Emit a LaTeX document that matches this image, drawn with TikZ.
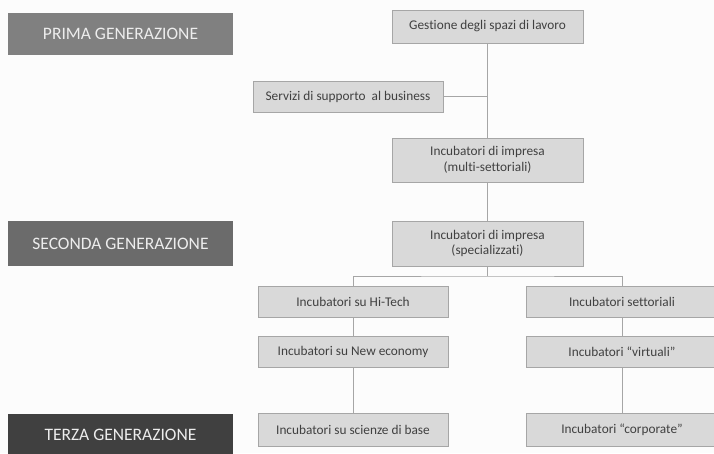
\documentclass[tikz,border=0pt]{standalone}
\usepackage{fontspec}
\setmainfont{Carlito}[Ligatures=NoCommon]
\begin{document}
\begin{tikzpicture}[x=1pt,y=-1pt,
  gen/.style={draw=none,text=white!93!black,font=\fontsize{17.5}{20}\selectfont,inner sep=0pt},
  box/.style={draw=black!35,fill=black!15,line width=0.8pt,text=black!75,font=\fontsize{13.3}{15.5}\selectfont,align=center,inner sep=0pt},
  conn/.style={draw=black!35,line width=0.9pt}]
\useasboundingbox (0,0) rectangle (714,453);
\fill[black!1] (0,0) rectangle (714,453);
% generation labels
\node[gen,fill=black!50,minimum width=225pt,minimum height=42pt] (g1) at (120.5,34) {PRIMA GENERAZIONE};
\node[gen,fill=black!58,minimum width=225pt,minimum height=45pt] (g2) at (120.5,243.5) {SECONDA GENERAZIONE};
\node[gen,fill=black!75,minimum width=225pt,minimum height=42pt] (g3) at (120.5,435) {TERZA GENERAZIONE};
% boxes
\node[box,minimum width=191pt,minimum height=33pt] (gest) at (487.5,26.5) {Gestione degli spazi di lavoro};
\node[box,minimum width=190pt,minimum height=31pt] (serv) at (348,96.5) {Servizi di supporto\ \ al business};
\node[box,minimum width=191pt,minimum height=44pt] (multi) at (487.5,160) {Incubatori di impresa\\(multi-settoriali)};
\node[box,minimum width=191pt,minimum height=45pt] (spec) at (487.5,243.5) {Incubatori di impresa\\(specializzati)};
\node[box,minimum width=190pt,minimum height=31pt] (hitech) at (353,301.5) {Incubatori su Hi-Tech};
\node[box,minimum width=192pt,minimum height=31pt] (sett) at (622,301.5) {Incubatori settoriali};
\node[box,minimum width=190pt,minimum height=31pt] (neweco) at (353,351.5) {Incubatori su New economy};
\node[box,minimum width=192pt,minimum height=31pt] (virt) at (622,351.5) {Incubatori “virtuali”};
\node[box,minimum width=190pt,minimum height=33pt] (sci) at (353,429.5) {Incubatori su scienze di base};
\node[box,minimum width=192pt,minimum height=33pt] (corp) at (622,429.5) {Incubatori “corporate”};
% connectors
\coordinate (br) at (487.5,276);
\draw[conn] (gest.south) -- (multi.north);
\draw[conn] (serv.east) -- (serv.east -| gest.south);
\draw[conn] (multi.south) -- (spec.north);
\draw[conn] (spec.south) -- (br);
\draw[conn] (hitech.north) |- (br) -| (sett.north);
\draw[conn] (hitech.south) -- (neweco.north);
\draw[conn] (neweco.south) -- (sci.north);
\draw[conn] (sett.south) -- (virt.north);
\draw[conn] (virt.south) -- (corp.north);
\end{tikzpicture}
\end{document}
